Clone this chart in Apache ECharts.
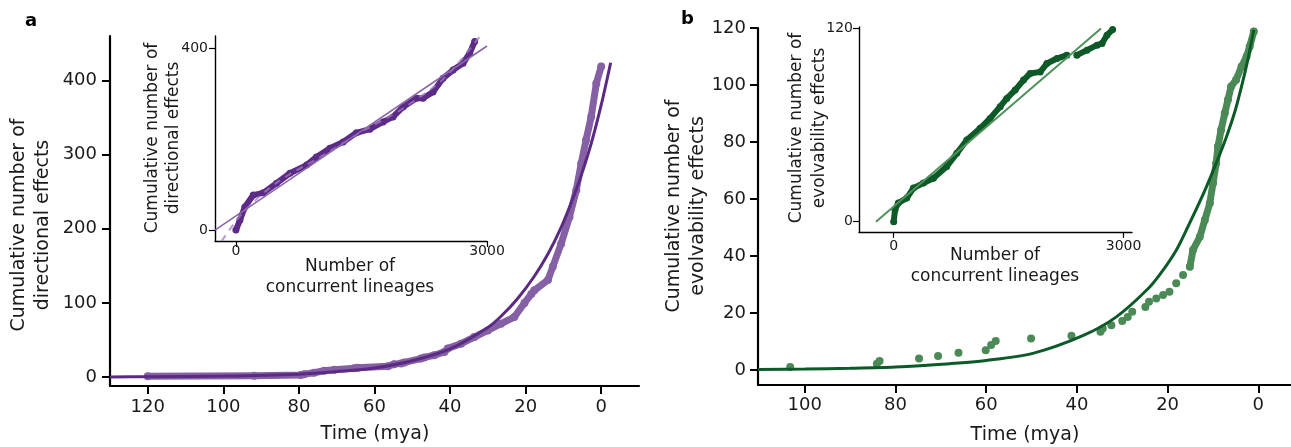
<!DOCTYPE html>
<html>
<head>
<meta charset="utf-8">
<script src="https://cdn.jsdelivr.net/npm/echarts@6/dist/echarts.min.js"></script>
<style>
  html, body { margin: 0; padding: 0; background: #fff; }
  #chart { width: 1291px; height: 447px; }
</style>
</head>
<body>
<div id="chart"></div>
<script>
// ---- panel a: directional effects (time in mya) ----
const aObsTime  = [120, 91.8, 79.5, 78.6, 76, 73.3, 70.6, 65.4, 64.5, 56.5, 54.8, 53, 52.1, 47.7, 46.8, 44.2, 41.5, 40.6, 37.1, 33.6, 30, 26.5, 23, 20.3, 18.5, 17.7, 14.1, 12.8, 10.6, 8.4, 6.6, 5.3, 4, 2.65, 1.3, 0];
const aObsCount = [1.3, 1.8, 2.7, 4, 5.8, 8.5, 10, 12, 12.6, 14.5, 17.5, 18.5, 19.8, 25, 26.6, 29.5, 34, 38.7, 45, 54, 63, 72, 81, 100, 112, 117, 131, 149, 180, 216, 252, 288, 320, 351, 396, 419];
const aFitTime  = [130, 120, 100, 80, 70, 60, 50, 40, 30, 26.5, 22.1, 17.7, 14.1, 10.6, 7.95, 5.3, 2.65, 0, -2.5];
const aFitCount = [0.3, 0.5, 1.4, 4, 7.5, 12.3, 22, 38, 67, 82, 106, 136, 166, 202, 235, 272, 315, 367, 424];

// panel a inset: against number of concurrent lineages
const aInLineages = [0, 48, 107, 207, 326, 485, 645, 844, 963, 1122, 1281, 1440, 1600, 1758, 1877, 1997, 2157, 2236, 2355, 2475, 2594, 2714, 2793, 2853];
const aInCount    = [0, 22, 51, 77, 82, 103, 125, 143, 161, 180, 194, 214, 222, 238, 249, 271, 290, 290, 304, 334, 352, 367, 389, 415];
const aInFitX     = [-250, 3000];
const aInFitY     = [0, 405];
const aInDashX    = [-170, 100, 500, 1000, 1500, 2000, 2500, 2910];
const aInDashY    = [-24, 42, 106, 160, 216, 268, 336, 425];

// ---- panel b: evolvability effects ----
const bObsTime  = [103.2, 84.1, 83.5, 74.8, 70.6, 66.1, 60.1, 58.9, 57.9, 50.1, 41.2, 34.8, 34.3, 32.4, 30, 28.8, 27.8, 24.9, 24.1, 22.5, 21, 19.6, 18.1, 16.6, 15.1, 14.4, 12.9, 11.8, 10.7, 10, 9.3, 8.9, 8.2, 7.4, 6.7, 6, 4.9, 3.7, 2.6, 1.9, 1];
const bObsCount = [1, 2.2, 3.1, 4, 4.9, 6, 6.9, 8.7, 10.1, 11, 12, 13.4, 14.5, 15.7, 17.2, 18.6, 20.4, 22.1, 23.9, 25.1, 26.3, 27.4, 30.4, 33.3, 36.2, 42.1, 46.7, 52.6, 58.5, 65.5, 72.5, 78.4, 84.3, 90.1, 94.8, 99.5, 101.8, 106.5, 110, 113.5, 118.8];
const bFitTime  = [110.3, 100, 90, 80, 67.9, 60, 49.7, 38.7, 31.3, 24, 21, 18.1, 15.9, 12.2, 9.3, 7.1, 5.2, 3.7, 2.3, 1];
const bFitCount = [0.15, 0.3, 0.55, 1, 2.2, 3.3, 5.8, 12, 18.6, 29, 35, 42, 49, 61.5, 72.5, 81.5, 90.5, 99.5, 109, 119.4];

const bInLineages = [0, 17, 60, 170, 257, 387, 518, 692, 823, 954, 1128, 1258, 1389, 1476, 1585, 1694, 1781, 1912, 1999, 2130, 2260, null, 2391, 2522, 2653, 2718, 2783, 2857];
const bInCount    = [0, 7.4, 11.6, 14.7, 20.9, 24, 27, 34.3, 42.5, 50.8, 58, 64.2, 71.5, 76.6, 81.8, 88, 92.1, 93.1, 98.3, 101.4, 103.5, null, 103.5, 106.6, 109.7, 110.7, 115.9, 119.4];
const bInFitX     = [-231, 2705];
const bInFitY     = [0, 120];

// tick labels
const aMainXTicks = [120, 100, 80, 60, 40, 20, 0];
const aMainYTicks = [0, 100, 200, 300, 400];
const bMainXTicks = [100, 80, 60, 40, 20, 0];
const bMainYTicks = [0, 20, 40, 60, 80, 100, 120];
const aInXTicks = [0, 3000];
const aInYTicks = [0, 400];
const bInXTicks = [0, 3000];
const bInYTicks = [0, 120];

const FONT = "'DejaVu Sans', Verdana, sans-serif";

function zip(xs, ys) {
    return xs.map((x, i) => (x === null ? '-' : [x, ys[i]]));
}

function axis(opts) {
    const big = opts.big;
    return {
        type: 'value',
        gridIndex: opts.grid,
        min: opts.min,
        max: opts.max,
        inverse: !!opts.inverse,
        splitLine: { show: false },
        axisLine: { show: true, onZero: false, lineStyle: { color: '#000', width: big ? 2.2 : 1.4 } },
        axisTick: {
            show: true,
            length: big ? 8 : 6,
            customValues: opts.ticks,
            lineStyle: { color: '#000', width: big ? 2 : 1.2 }
        },
        axisLabel: {
            customValues: opts.ticks,
            margin: opts.margin,
            color: '#1a1a1a',
            fontSize: big ? 18 : 14,
            fontFamily: FONT,
            formatter: (v) => String(v)
        }
    };
}

function title(x, y, text, size, rotate, lineHeight) {
    return {
        type: 'text',
        x: x,
        y: y,
        rotation: rotate ? Math.PI / 2 : 0,
        style: {
            text: text,
            fill: '#1a1a1a',
            font: size + 'px ' + FONT,
            textAlign: 'center',
            textVerticalAlign: 'middle',
            lineHeight: lineHeight || size * 1.2
        }
    };
}

const chart = echarts.init(document.getElementById('chart'));

const option = {
    animation: false,
    backgroundColor: '#fff',
    grid: [
        { left: 110, top: 36, width: 529, height: 350 },
        { left: 215, top: 36, width: 272, height: 205 },
        { left: 758, top: 28, width: 533, height: 357 },
        { left: 859, top: 27, width: 273, height: 205 }
    ],
    xAxis: [
        axis({ grid: 0, big: true, min: -10, max: 130, inverse: true, ticks: aMainXTicks, margin: 12 }),
        axis({ grid: 1, min: -250, max: 3000, ticks: aInXTicks, margin: 3 }),
        axis({ grid: 2, big: true, min: -7.2, max: 110.3, inverse: true, ticks: bMainXTicks, margin: 11 }),
        axis({ grid: 3, min: -453, max: 3110, ticks: bInXTicks, margin: 7 })
    ],
    yAxis: [
        axis({ grid: 0, big: true, min: -12, max: 460, ticks: aMainYTicks, margin: 13 }),
        axis({ grid: 1, min: -24, max: 427, ticks: aInYTicks, margin: 7 }),
        axis({ grid: 2, big: true, min: -5.3, max: 120, ticks: bMainYTicks, margin: 12 }),
        axis({ grid: 3, min: -6.4, max: 121, ticks: bInYTicks, margin: 6 })
    ],
    series: [
        // panel a main
        {
            name: 'a observed', type: 'line', xAxisIndex: 0, yAxisIndex: 0,
            data: zip(aObsTime, aObsCount),
            symbol: 'circle', symbolSize: 8,
            itemStyle: { color: '#8560a5' },
            lineStyle: { color: '#8560a5', width: 7, cap: 'round', join: 'round' },
            z: 2
        },
        {
            name: 'a fit', type: 'line', xAxisIndex: 0, yAxisIndex: 0,
            data: zip(aFitTime, aFitCount),
            smooth: 0.3, showSymbol: false,
            lineStyle: { color: '#5b2a83', width: 3 },
            z: 3
        },
        // panel a inset
        {
            name: 'a inset observed', type: 'line', xAxisIndex: 1, yAxisIndex: 1,
            data: zip(aInLineages, aInCount),
            symbol: 'circle', symbolSize: 7,
            itemStyle: { color: '#5c2b87' },
            lineStyle: { color: '#5c2b87', width: 6, cap: 'round', join: 'round' },
            z: 2
        },
        {
            name: 'a inset dashed', type: 'line', xAxisIndex: 1, yAxisIndex: 1,
            data: zip(aInDashX, aInDashY),
            smooth: 0.3, showSymbol: false,
            lineStyle: { color: 'rgba(160,125,190,0.75)', width: 2, type: [7, 6] },
            z: 3
        },
        {
            name: 'a inset fit', type: 'line', xAxisIndex: 1, yAxisIndex: 1,
            data: zip(aInFitX, aInFitY),
            showSymbol: false,
            lineStyle: { color: '#8c66ab', width: 1.6 },
            z: 4
        },
        // panel b main
        {
            name: 'b observed band', type: 'line', xAxisIndex: 2, yAxisIndex: 2,
            data: zip(bObsTime, bObsCount).filter(p => p[0] <= 15.1),
            showSymbol: false,
            lineStyle: { color: '#4b8a57', width: 7, cap: 'round', join: 'round' },
            z: 2
        },
        {
            name: 'b observed', type: 'scatter', xAxisIndex: 2, yAxisIndex: 2,
            data: zip(bObsTime, bObsCount),
            symbolSize: 8,
            itemStyle: { color: '#4b8a57', opacity: 1 },
            z: 2
        },
        {
            name: 'b fit', type: 'line', xAxisIndex: 2, yAxisIndex: 2,
            data: zip(bFitTime, bFitCount),
            smooth: 0.3, showSymbol: false,
            lineStyle: { color: '#0b5a27', width: 3 },
            z: 3
        },
        // panel b inset
        {
            name: 'b inset observed', type: 'line', xAxisIndex: 3, yAxisIndex: 3,
            data: zip(bInLineages, bInCount),
            connectNulls: false,
            symbol: 'circle', symbolSize: 7,
            itemStyle: { color: '#0d5a28' },
            lineStyle: { color: '#0d5a28', width: 6, cap: 'round', join: 'round' },
            z: 2
        },
        {
            name: 'b inset fit', type: 'line', xAxisIndex: 3, yAxisIndex: 3,
            data: zip(bInFitX, bInFitY),
            showSymbol: false,
            lineStyle: { color: '#4f915a', width: 2 },
            z: 4
        }
    ],
    graphic: [
        { type: 'text', x: 25, y: 12, style: { text: 'a', fill: '#000', font: 'bold 18px ' + FONT } },
        { type: 'text', x: 681, y: 10, style: { text: 'b', fill: '#000', font: 'bold 18px ' + FONT } },
        title(31, 225, 'Cumulative number of\ndirectional effects', 19, true, 24),
        title(375, 434, 'Time (mya)', 19, false),
        title(163, 138, 'Cumulative number of\ndirectional effects', 17, true, 21),
        title(350, 277, 'Number of\nconcurrent lineages', 17, false, 21),
        title(686, 206, 'Cumulative number of\nevolvability effects', 19, true, 24),
        title(1025, 435, 'Time (mya)', 19, false),
        title(808, 128, 'Cumulative number of\nevolvability effects', 17, true, 23),
        title(995, 266, 'Number of\nconcurrent lineages', 17, false, 21)
    ]
};

chart.setOption(option);
</script>
</body>
</html>
